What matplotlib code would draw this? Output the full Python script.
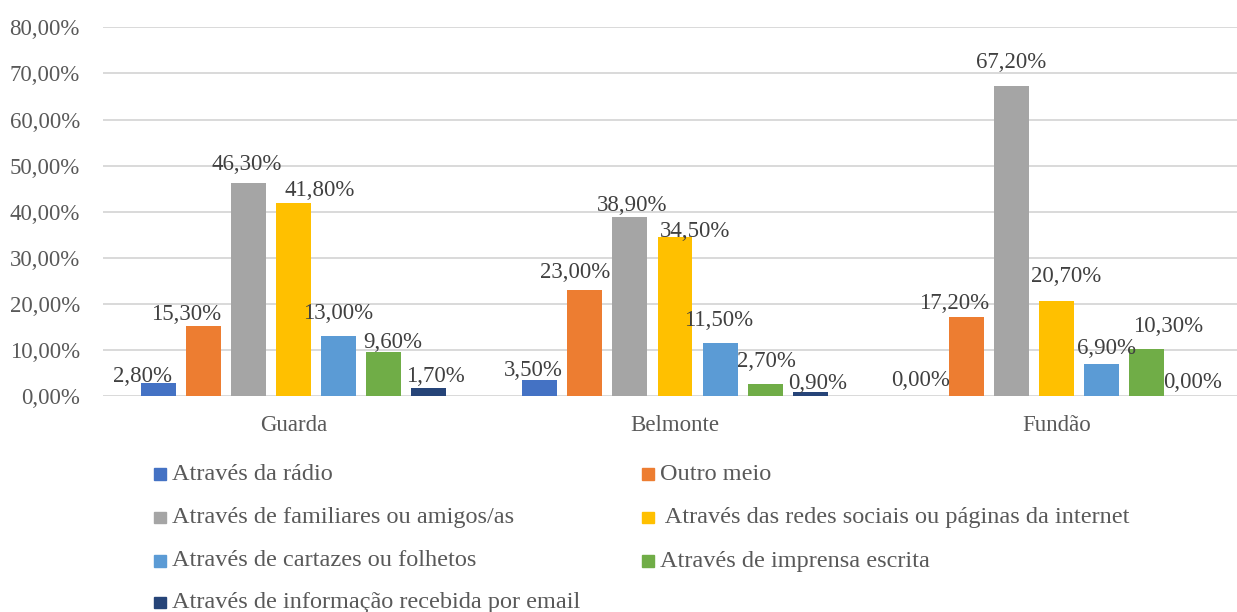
import numpy as np
import matplotlib.pyplot as plt
from matplotlib.patches import Rectangle

# data (percent)
locations = ["Guarda", "Belmonte", "Fundão"]
series = [
    "Através da rádio",
    "Outro meio",
    "Através de familiares ou amigos/as",
    " Através das redes sociais ou páginas da internet",
    "Através de cartazes ou folhetos",
    "Através de imprensa escrita",
    "Através de informação recebida por email",
]
radio = [2.8, 3.5, 0.0]
outro = [15.3, 23.0, 17.2]
familiares = [46.3, 38.9, 67.2]
redes = [41.8, 34.5, 20.7]
cartazes = [13.0, 11.5, 6.9]
imprensa = [9.6, 2.7, 10.3]
email = [1.7, 0.9, 0.0]
values = [radio, outro, familiares, redes, cartazes, imprensa, email]

colors = ["#4472C4", "#ED7D31", "#A5A5A5", "#FFC000", "#5B9BD5", "#70AD47", "#264478"]

# Excel nudged some data labels sideways/up; pixel offsets per (series, location)
label_dx = [[-16, -7, -1], [-17.5, -10, -12], [-2, 2, 0], [26.5, 20, 10],
            [-0.5, -1.5, 5], [9.5, 1.5, 21.5], [6.5, 7.5, 1.5]]
label_dy = [[7, 9.5, 15.5], [11.5, 17.5, 13], [18, 11.5, 24], [12.5, 6, 24],
            [23, 22.5, 16], [10, 22.5, 22], [12, 9, 13.5]]

plt.rcParams['font.family'] = ['Liberation Serif', 'DejaVu Serif']
W, H = 1237, 612
fig = plt.figure(figsize=(W / 100, H / 100), dpi=100)
ax = fig.add_axes([102.75 / W, 1 - 396.3 / H, 1144.5 / W, 369 / H])

x = np.arange(len(locations))
step = 0.118
width = 0.0917
for i, (name, vals) in enumerate(zip(series, values)):
    xs = x + (i - 3) * step
    ax.bar(xs, vals, width=width, color=colors[i], zorder=3)
    for j, v in enumerate(vals):
        ax.annotate(f"{v:.2f}%".replace('.', ','), (xs[j], v),
                    xytext=(label_dx[i][j] * 0.72, label_dy[i][j] * 0.72),
                    textcoords='offset points', ha='center', va='center',
                    fontsize=16.5, color='#404040', zorder=4)

ax.set_xlim(-0.5, 2.5)
ax.set_ylim(0, 80)
ax.set_yticks(np.arange(0, 81, 10))
ax.set_yticklabels([f"{t:.2f}%".replace('.', ',') for t in np.arange(0, 81, 10)])
ax.set_xticks(x)
ax.set_xticklabels(locations)
ax.tick_params(axis='y', length=0, pad=16.5, labelsize=16.5, labelcolor='#595959')
ax.tick_params(axis='x', length=0, pad=13.5, labelsize=16.5, labelcolor='#595959')
ax.grid(axis='y', color='#D9D9D9', linewidth=1.4, zorder=0)
for s in ax.spines.values():
    s.set_visible(False)

# legend laid out like Excel: two columns, filled row by row
col_x = [154, 642]
row_y = [474, 517.5, 561, 602.5]
sq = 11.5
for i, name in enumerate(series):
    cx = col_x[i % 2]
    cy = row_y[i // 2]
    fig.add_artist(Rectangle((cx / W, 1 - (cy + sq / 2) / H), sq / W, sq / H,
                             transform=fig.transFigure, color=colors[i]))
    fig.text((cx + sq + 6) / W, 1 - cy / H, name, ha='left', va='center',
             fontsize=17.5, color='#595959')

fig.savefig("out.png", dpi=100)
